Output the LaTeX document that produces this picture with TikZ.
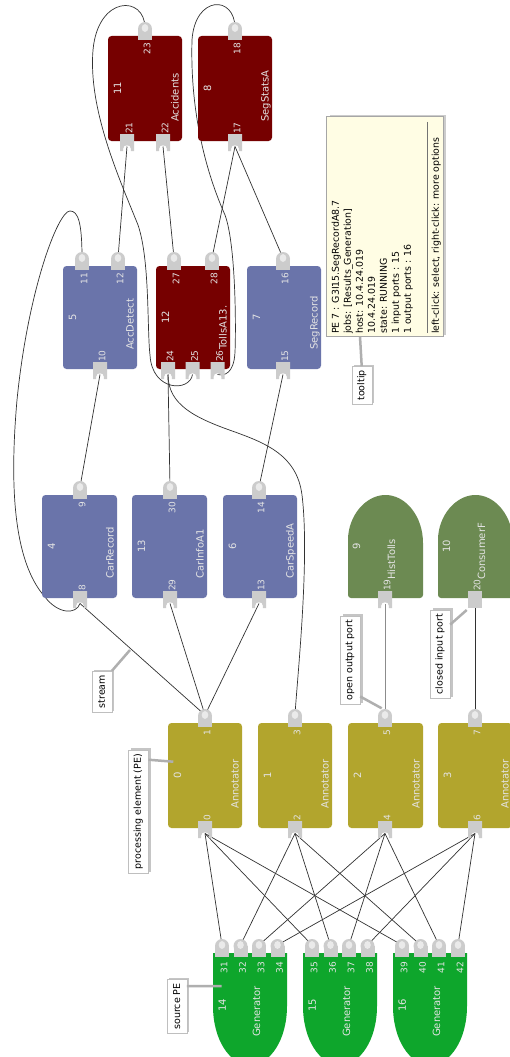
\documentclass[tikz,border=0pt]{standalone}
\usepackage{fontspec}
\setmainfont{DejaVu Sans}
\usetikzlibrary{calc,shadows}
\definecolor{gengreen}{RGB}{14,166,44}
\definecolor{olive}{RGB}{178,165,45}
\definecolor{peblue}{RGB}{106,116,170}
\definecolor{pered}{RGB}{118,0,0}
\definecolor{sinkgreen}{RGB}{108,138,82}
\definecolor{portcol}{RGB}{204,204,204}
\definecolor{portin}{RGB}{234,234,234}
\definecolor{labcol}{RGB}{228,228,228}
\definecolor{linecol}{RGB}{50,50,50}
\definecolor{tipfill}{RGB}{255,253,228}
\definecolor{pointercol}{RGB}{175,175,175}
\pgfdeclarelayer{back}
\pgfdeclarelayer{bg}
\pgfsetlayers{back,bg,main}
\tikzset{
  pebox/.style={rectangle, rounded corners=3.5pt, draw=none, inner sep=0pt},
  numlab/.style={rotate=90, text=labcol, font=\fontsize{10}{12}\selectfont, inner sep=0pt},
  namelab/.style={rotate=90, text=labcol, font=\fontsize{10}{12}\selectfont, inner sep=0pt, anchor=base west},
  portlab/.style={rotate=90, text=labcol, font=\fontsize{9}{11}\selectfont, inner sep=0pt},
  conn/.style={draw=linecol, line width=0.7pt},
  callout/.style={rotate=90, draw=black!25, fill=white, line width=0.4pt,
    font=\fontsize{9.5}{11}\selectfont, inner xsep=4pt, inner ysep=0pt, minimum height=20pt,
    drop shadow={shadow xshift=2.5pt, shadow yshift=1.5pt, opacity=0.45}},
  pointer/.style={draw=pointercol, line width=2.5pt},
  tipbox/.style={rectangle, fill=tipfill, draw=black!35, line width=0.5pt, inner sep=0pt,
    drop shadow={shadow xshift=3pt, shadow yshift=1.5pt, opacity=0.4}},
  tiptext/.style={rotate=90, align=left, inner sep=0pt, font=\fontsize{9.4}{12}\selectfont},
}
% box with number and name
\newcommand\PEbox[8]{%
  \node[pebox, fill=#6, minimum width={(#4-#2)*1pt}, minimum height={(#5-#3)*1pt}] (#1) at ({(#2+#4)/2},{(#3+#5)/2}) {};
  \node[numlab] (#1n) at ({#2+9.5},{(#3+#5)/2}) {#7};
  \node[namelab] (#1t) at ({#4-3.5},{#5-19}) {#8};
}
% output port on top edge
\newcommand\OutPort[4][7]{%
  \fill[portcol] (#3,#4-7) circle[radius=7pt];
  \fill[portcol] (#3-7,#4-7) rectangle (#3+7,#4+4);
  \fill[portin] (#3,#4-8) ellipse[x radius=3.3pt, y radius=3.9pt];
  \coordinate (p#2) at (#3,#4-8);
  \node[portlab, anchor=east] (l#2) at (#3+2,#4+#1) {#2};
}
% open input port on bottom edge (notched)
\newcommand\InPort[3]{%
  \fill[portcol] (#2-7,#3-7) -- (#2+7,#3-7) -- (#2+7,#3+10) -- (#2+3.8,#3+10) -- (#2+3.8,#3+7.5)
     .. controls (#2+3.8,#3+5.2) and (#2+2.1,#3+4.3) .. (#2,#3+4.3)
     .. controls (#2-2.1,#3+4.3) and (#2-3.8,#3+5.2) .. (#2-3.8,#3+7.5)
     -- (#2-3.8,#3+10) -- (#2-7,#3+10) -- cycle;
  \coordinate (p#1) at (#2,#3+5.5);
  \node[portlab, anchor=west] (l#1) at (#2+2,#3-7) {#1};
}
% closed input port
\newcommand\ClosedPort[3]{%
  \fill[portcol] (#2-7,#3-7) rectangle (#2+7,#3+10);
  \coordinate (p#1) at (#2,#3+10);
  \node[portlab, anchor=west] (l#1) at (#2+2,#3-7) {#1};
}
% source PE (generator)
\newcommand\Gen[3]{%
  \path[fill=gengreen] (#2,953) -- (#2,1006) .. controls (#2,1039.5) and (#2+16.6,1065) .. (#2+37,1065)
     .. controls (#2+57.4,1065) and (#2+74,1039.5) .. (#2+74,1006) -- (#2+74,953) -- cycle;
  \node[inner sep=0pt, minimum width=74pt, minimum height=112pt] (#1) at (#2+37,1009) {};
  \node[numlab] (#1n) at (#2+9.3,1005) {#3};
  \node[namelab] (#1t) at (#2+47,1037) {Generator};
}
% sink PE
\newcommand\Sink[4]{%
  \path[fill=sinkgreen] (#2+75,543) [rounded corners=3pt] -- (#2+75,598) -- (#2,598) -- (#2,543) [sharp corners]
     .. controls (#2,516) and (#2+17.5,495) .. (#2+37.5,495)
     .. controls (#2+57.5,495) and (#2+75,516) .. (#2+75,543) -- cycle;
  \node[inner sep=0pt, minimum width=75pt, minimum height=103pt] (#1) at (#2+37.5,546.5) {};
  \node[numlab] (#1n) at (#2+8.4,546) {#3};
  \node[namelab] (#1t) at (#2+47,580) {#4};
}
\begin{document}
\begin{tikzpicture}[x=1pt,y=-1pt]
\useasboundingbox (0,0) rectangle (510,1057);
\begin{pgfonlayer}{back}
  \fill[white] (0,0) rectangle (510,1057);
\end{pgfonlayer}
\clip (0,0) rectangle (510,1057);

% ---------- top row ----------
\PEbox{pe11}{108}{36}{182}{141}{pered}{11}{Accidents}
\OutPort{23}{145}{36}
\InPort{21}{127}{141}
\InPort{22}{163}{141}
\PEbox{pe8}{198}{36}{272}{141}{pered}{8}{SegStatsA}
\OutPort{18}{235}{36}
\InPort{17}{235}{141}

% ---------- second row ----------
\PEbox{pe5}{63}{266}{137}{369}{peblue}{5}{AccDetect}
\OutPort{11}{82}{266}
\OutPort{12}{118}{266}
\InPort{10}{100}{369}
\PEbox{pe12}{156}{266}{230}{369}{pered}{12}{TollsA13.}
\OutPort{27}{174}{266}
\OutPort{28}{212}{266}
\InPort{24}{168}{369}
\InPort{25}{192.5}{369}
\InPort{26}{217.5}{369}
\PEbox{pe7}{247}{266}{321}{369}{peblue}{7}{SegRecord}
\OutPort{16}{283}{266}
\InPort{15}{283}{369}

% ---------- third row ----------
\PEbox{pe4}{42}{495}{117}{598}{peblue}{4}{CarRecord}
\OutPort{9}{80}{495}
\InPort{8}{80}{598}
\PEbox{pe13}{132}{495}{207}{598}{peblue}{13}{CarInfoA1}
\OutPort{30}{170}{495}
\InPort{29}{170}{598}
\PEbox{pe6}{223}{495}{297}{598}{peblue}{6}{CarSpeedA}
\OutPort{14}{259}{495}
\InPort{13}{259}{598}
\Sink{pe9}{348}{9}{HistTolls}
\InPort{19}{385}{598}
\Sink{pe10}{438}{10}{ConsumerF}
\ClosedPort{20}{475}{598}

% ---------- annotators ----------
\PEbox{pe0}{168}{723}{242}{828}{olive}{0}{Annotator}
\OutPort{1}{205}{723}
\InPort{0}{205}{828}
\PEbox{pe1}{258}{723}{332}{828}{olive}{1}{Annotator}
\OutPort{3}{295}{723}
\InPort{2}{295}{828}
\PEbox{pe2}{348}{723}{423}{828}{olive}{2}{Annotator}
\OutPort{5}{385}{723}
\InPort{4}{385}{828}
\PEbox{pe3}{438}{723}{512}{828}{olive}{3}{Annotator}
\OutPort{7}{475}{723}
\InPort{6}{475}{828}

% ---------- generators ----------
\Gen{pe14}{213}{14}
\OutPort[8.5]{31}{222}{953}
\OutPort[8.5]{32}{240.5}{953}
\OutPort[8.5]{33}{259}{953}
\OutPort[8.5]{34}{277.5}{953}
\Gen{pe15}{303}{15}
\OutPort[8.5]{35}{312}{953}
\OutPort[8.5]{36}{330.5}{953}
\OutPort[8.5]{37}{349}{953}
\OutPort[8.5]{38}{367.5}{953}
\Gen{pe16}{393}{16}
\OutPort[8.5]{39}{402}{953}
\OutPort[8.5]{40}{420.5}{953}
\OutPort[8.5]{41}{439}{953}
\OutPort[8.5]{42}{458}{953}

% ---------- tooltip ----------
\node[tipbox, minimum width=116.6pt, minimum height=220pt] (tip) at (385,226.7) {};
\node[tiptext, anchor=north west] (tiptxt) at (331.5,334) {PE 7 : G3I15.SegRecordA8.7\\jobs: [Results\_Generation]\\host: 10.4.24.019\\10.4.24.019\\state: RUNNING\\1 input ports : 15\\1 output ports : 16};
\draw[black!55, line width=0.8pt] ($(tip.north east)+(-16.6,5.5)$) -- ($(tip.south east)+(-16.6,-3.5)$);
\node[tiptext, anchor=north west] (tiplast) at (431.5,334) {left-click: select, right-click: more options};

% ---------- connectors ----------
\begin{pgfonlayer}{bg}
\draw[conn] (p23) .. controls (145,-5) and (98,-5) .. (93,50) .. controls (88,110) and (120,180) .. (138,225)
   .. controls (150,260) and (147,330) .. (150,355) .. controls (152,392) and (190,392) .. (p25);
\draw[conn] (p18) .. controls (235,-5) and (195,-5) .. (192,40) .. controls (190,110) and (205,170) .. (225,215)
   .. controls (236,245) and (236,330) .. (235,352) .. controls (234,374) and (224,376) .. (p26);
\draw[conn] (p11) .. controls (82,222) and (78,211) .. (70,211) .. controls (58,211) and (28,290) .. (17,400)
   .. controls (10,480) and (12,560) .. (45,597) .. controls (58,614) and (76,615) .. (p8);
\draw[conn] (p3) .. controls (297,680) and (310,560) .. (302,495) .. controls (297,455) and (265,443) .. (235,432)
   .. controls (195,418) and (168,405) .. (p24);
\draw[conn] (p30) -- (p24);
\draw[conn] (p14) -- (p15);
\draw[conn] (p9) -- (p10);
\draw[conn] (p12) -- (p21);
\draw[conn] (p27) -- (p22);
\draw[conn] (p28) -- (p17);
\draw[conn] (p16) -- (p17);
\draw[conn] (p1) -- (p8);
\draw[conn] (p1) -- (p29);
\draw[conn] (p1) -- (p13);
\draw[conn, draw=black!45, line width=1pt] (p5) -- (p19);
\draw[conn] (p7) -- (p20);
\foreach \s/\t in {31/0,32/2,33/4,34/6,35/0,36/2,37/4,38/6,39/0,40/2,41/4,42/6}
  \draw[conn] (p\s) -- (p\t);
\end{pgfonlayer}

% ---------- callouts ----------
\node[callout] (cstream) at (101.7,691.7) {stream};
\node[callout] (cpe) at (138.3,811.7) {processing element (PE)};
\node[callout] (copen) at (350,660) {open output port};
\node[callout] (cclosed) at (440,654) {closed input port};
\node[callout] (csource) at (176.7,1006.5) {source PE};
\node[callout] (ctip) at (361.7,385.5) {tooltip};
\coordinate (tstream) at (130,650);
\coordinate (tpe) at (173.3,761.7);
\coordinate (topen) at (381.7,708.3);
\coordinate (tclosed) at (466.7,610);
\coordinate (tsource) at (221.7,986);
\coordinate (ttip) at (360,336.7);
\draw[pointer] (cstream.south east) -- (tstream);
\draw[pointer] ($(cpe.south east)+(0,10)$) -- (tpe);
\draw[pointer] ($(copen.south west)+(0,-8)$) -- (topen);
\draw[pointer] ($(cclosed.south east)+(0,15)$) -- (tclosed);
\draw[pointer] ($(csource.south east)+(0,7)$) -- (tsource);
\draw[pointer] (ctip.east) -- (ttip);
\end{tikzpicture}
\end{document}
